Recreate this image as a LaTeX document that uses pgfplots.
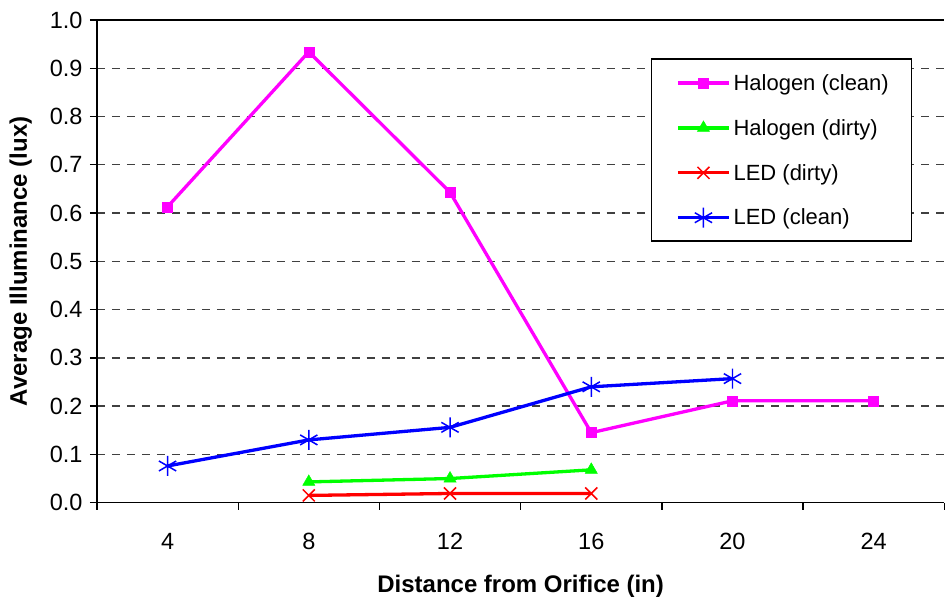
\documentclass[border=0pt]{standalone}
\usepackage{pgfplots}
\pgfplotsset{compat=1.18}
\usetikzlibrary{calc}
\usepackage{fontspec}
\setmainfont{Liberation Sans}

\definecolor{halc}{RGB}{255,0,255}
\definecolor{hald}{RGB}{0,255,0}
\definecolor{ledd}{RGB}{255,0,0}
\definecolor{ledc}{RGB}{0,0,255}

\begin{document}
\begin{tikzpicture}
\begin{axis}[
    width=848pt, height=483pt,
    scale only axis,
    xmin=-0.5, xmax=5.5,
    ymin=0, ymax=1,
    axis lines*=left,
    xtick={0,1,2,3,4,5},
    xticklabels={4,8,12,16,20,24},
    major x tick style={draw=none},
    minor xtick={-0.5,0.5,1.5,2.5,3.5,4.5,5.5},
    minor x tick style={black, line width=1.3pt},
    minor tick length=7pt,
    ytick distance=0.1,
    yticklabel style={/pgf/number format/fixed, /pgf/number format/fixed zerofill,
        /pgf/number format/precision=1, xshift=-4pt},
    /pgf/number format/assume math mode=true,
    tick align=outside,
    major tick length=7pt,
    tick style={black, line width=1.3pt},
    axis line style={black, line width=1.3pt},
    ymajorgrids=true,
    grid style={black!75, line width=1.3pt, dash pattern=on 8pt off 7pt},
    tick label style={font=\fontsize{23.5}{28}\selectfont},
    xticklabel style={yshift=-20pt},
    xlabel={\textbf{Distance from Orifice (in)}},
    ylabel={\textbf{Average Illuminance (lux)}},
    label style={font=\fontsize{24}{28}\selectfont},
    xlabel style={yshift=-18pt},
    ylabel style={yshift=11pt},
    clip=false,
    legend cell align=left,
    legend style={at={(0.654,0.919)}, anchor=north west,
        draw=none, fill=none,
        font=\fontsize{22}{26}\selectfont,
        nodes={inner xsep=3pt},
        inner xsep=15pt, inner ysep=13pt,
        row sep=23.5pt},
    legend image code/.code={
        \path (-10pt,0pt);
        \draw[#1, mark repeat=2, mark phase=2]
            plot coordinates {(0pt,0pt) (25.5pt,0pt) (51pt,0pt)};},
    every axis plot/.append style={line width=3.3pt},
]
\draw[black, line width=1.3pt] (rel axis cs:0,1) -- (rel axis cs:1,1);
% legend frame, covers the grid lines behind the legend
\filldraw[fill=white, draw=black, line width=1.2pt]
    (rel axis cs:0.6545,0.919) rectangle (rel axis cs:0.961,0.542);
\addplot[color=halc, mark=square*, mark size=5pt, mark options={solid, line width=0.5pt}]
    coordinates {(0,0.613)(1,0.934)(2,0.643)(3,0.145)(4,0.211)(5,0.211)};
\addlegendentry{Halogen (clean)}
\addplot[color=hald, mark=triangle*, mark size=7pt, mark options={solid, line width=0.5pt}]
    coordinates {(1,0.043)(2,0.050)(3,0.068)};
\addlegendentry{Halogen (dirty)}
\addplot[color=ledd, mark=x, mark size=8.5pt, mark options={solid, line width=1.5pt}]
    coordinates {(1,0.015)(2,0.019)(3,0.019)};
\addlegendentry{LED (dirty)}
\addplot[color=ledc, mark=asterisk, mark size=10pt, mark options={solid, line width=1.5pt}]
    coordinates {(0,0.076)(1,0.130)(2,0.156)(3,0.240)(4,0.257)};
\addlegendentry{LED (clean)}
\end{axis}
\path ($(current axis.south west)+(-97pt,-91pt)$) rectangle ($(current axis.north east)+(0pt,20pt)$);
\end{tikzpicture}
\end{document}
